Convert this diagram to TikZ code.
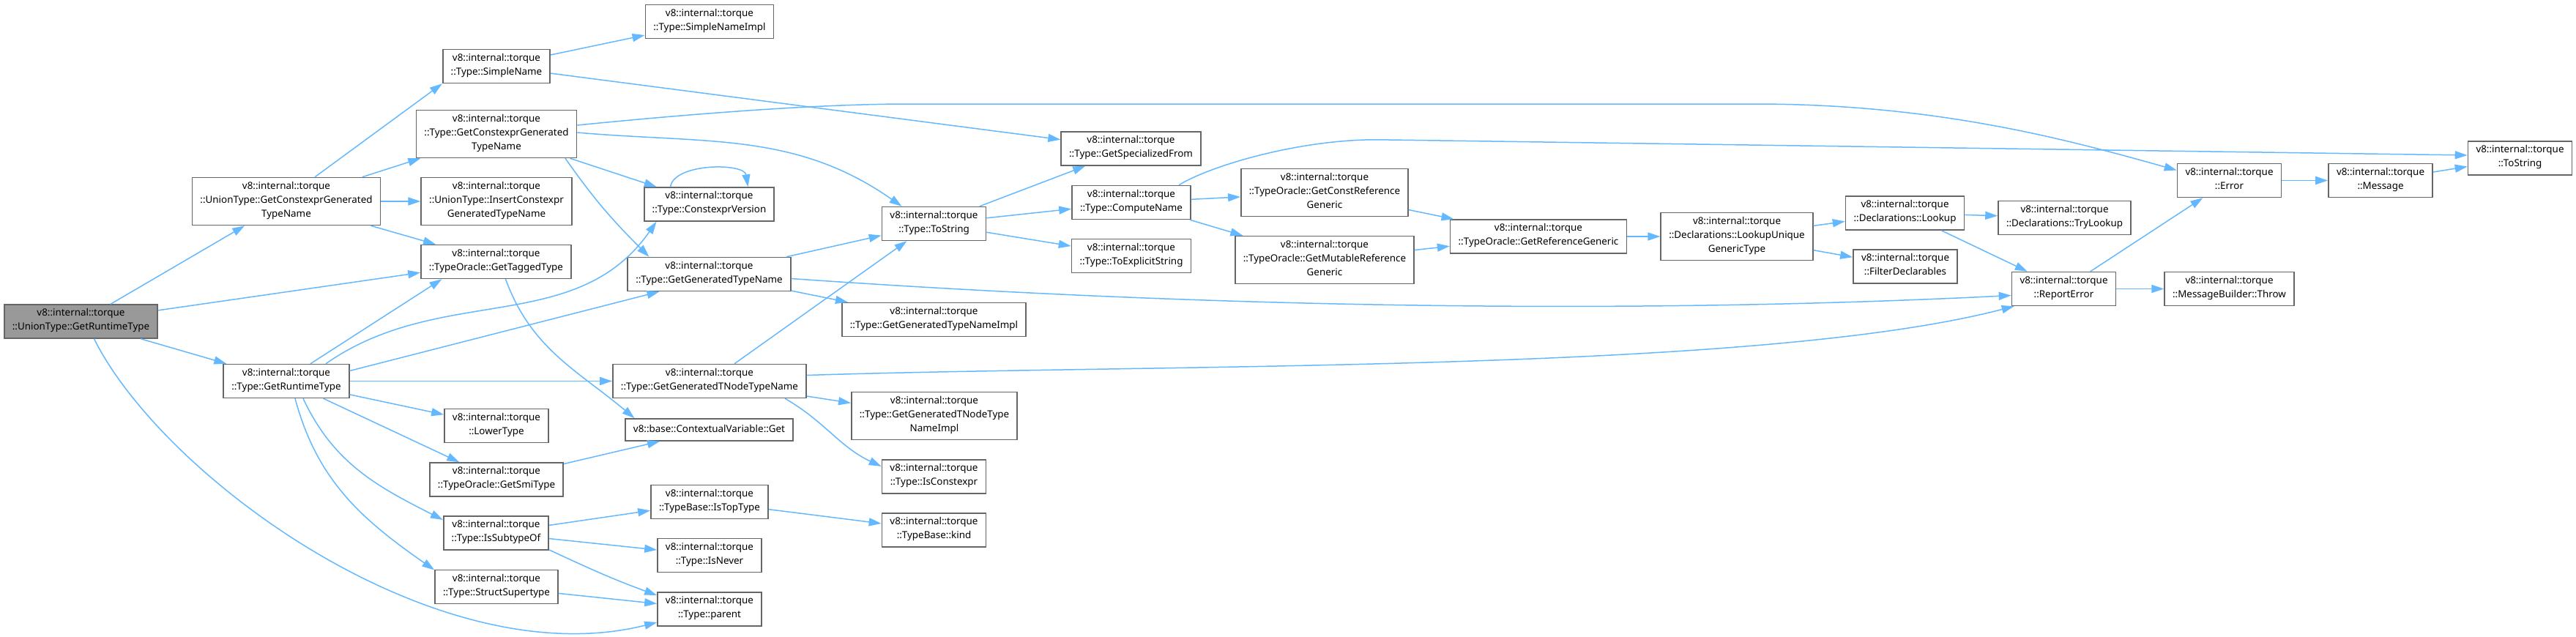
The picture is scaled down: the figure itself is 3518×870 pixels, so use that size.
\documentclass[tikz,border=0pt]{standalone}
\usepackage{fontspec}
\setsansfont{Noto Sans}
\usepackage{tikz}
\usetikzlibrary{arrows.meta}
\definecolor{DoxEdge}{HTML}{63B8FF}
\definecolor{DoxBorder}{HTML}{666666}
\definecolor{DoxRoot}{HTML}{999999}
\begin{document}
\begin{tikzpicture}[
  x=1pt,
  y=1pt,
  fnbox/.style={
    draw=DoxBorder,
    fill=white,
    line width=1.6pt,
    align=center,
    inner xsep=11pt,
    inner ysep=5.5pt,
    minimum height=30pt,
    font=\sffamily\fontsize{13.4}{19}\selectfont,
    execute at begin node=\strut,
    execute at end node=\strut,
    text=black
  },
  rootbox/.style={fnbox, fill=DoxRoot},
  callarrow/.style={-{Triangle[length=17pt,width=11pt]}, line width=1.5pt, draw=DoxEdge}
]
\useasboundingbox (0,0) rectangle (3518,-870);

\node[rootbox] (root) at (110.5,-439) {v8::internal::torque\\::UnionType::GetRuntimeType};
\node[fnbox] (ugetcgtn) at (391,-275) {v8::internal::torque\\::UnionType::GetConstexprGenerated\\TypeName};
\node[fnbox] (getrt) at (391,-520.5) {v8::internal::torque\\::Type::GetRuntimeType};

\node[fnbox] (simplename) at (678,-90.5) {v8::internal::torque\\::Type::SimpleName};
\node[fnbox] (getcgtn) at (678,-183) {v8::internal::torque\\::Type::GetConstexprGenerated\\TypeName};
\node[fnbox] (insertcgtn) at (678,-275) {v8::internal::torque\\::UnionType::InsertConstexpr\\GeneratedTypeName};
\node[fnbox] (taggedtype) at (677.5,-357.5) {v8::internal::torque\\::TypeOracle::GetTaggedType};
\node[fnbox] (lowertype) at (678,-581.5) {v8::internal::torque\\::LowerType};
\node[fnbox] (smitype) at (678,-655) {v8::internal::torque\\::TypeOracle::GetSmiType};
\node[fnbox] (issubtype) at (677.5,-728) {v8::internal::torque\\::Type::IsSubtypeOf};
\node[fnbox] (structsuper) at (678,-801.5) {v8::internal::torque\\::Type::StructSupertype};

\node[fnbox] (simpleimpl) at (969,-29.5) {v8::internal::torque\\::Type::SimpleNameImpl};
\node[fnbox] (cexprver) at (968.5,-279) {v8::internal::torque\\::Type::ConstexprVersion};
\node[fnbox] (gengtn) at (968.5,-374.5) {v8::internal::torque\\::Type::GetGeneratedTypeName};
\node[fnbox] (gentnode) at (969,-520.5) {v8::internal::torque\\::Type::GetGeneratedTNodeTypeName};
\node[fnbox] (ctxget) at (968.5,-587) {v8::base::ContextualVariable::Get};
\node[fnbox] (istoptype) at (969,-685.5) {v8::internal::torque\\::TypeBase::IsTopType};
\node[fnbox] (isnever) at (969,-758.5) {v8::internal::torque\\::Type::IsNever};
\node[fnbox] (parent) at (969,-832) {v8::internal::torque\\::Type::parent};

\node[fnbox] (typetostr) at (1275.5,-305.5) {v8::internal::torque\\::Type::ToString};
\node[fnbox] (gengtnimpl) at (1275.5,-436.5) {v8::internal::torque\\::Type::GetGeneratedTypeNameImpl};
\node[fnbox] (gentnodeimpl) at (1276,-568) {v8::internal::torque\\::Type::GetGeneratedTNodeType\\NameImpl};
\node[fnbox] (isconstexpr) at (1275.5,-651) {v8::internal::torque\\::Type::IsConstexpr};
\node[fnbox] (kind) at (1275.5,-724) {v8::internal::torque\\::TypeBase::kind};

\node[fnbox] (specfrom) at (1544.5,-203) {v8::internal::torque\\::Type::GetSpecializedFrom};
\node[fnbox] (computename) at (1545,-276.5) {v8::internal::torque\\::Type::ComputeName};
\node[fnbox] (explicitstr) at (1545,-349.5) {v8::internal::torque\\::Type::ToExplicitString};

\node[fnbox] (constref) at (1809,-263) {v8::internal::torque\\::TypeOracle::GetConstReference\\Generic};
\node[fnbox] (mutref) at (1809,-355) {v8::internal::torque\\::TypeOracle::GetMutableReference\\Generic};
\node[fnbox] (refgeneric) at (2101,-323) {v8::internal::torque\\::TypeOracle::GetReferenceGeneric};
\node[fnbox] (lookupunique) at (2372,-323) {v8::internal::torque\\::Declarations::LookupUnique\\GenericType};
\node[fnbox] (lookup) at (2601.5,-291) {v8::internal::torque\\::Declarations::Lookup};
\node[fnbox] (filterdecl) at (2602,-364) {v8::internal::torque\\::FilterDeclarables};
\node[fnbox] (trylookup) at (2819.5,-297.5) {v8::internal::torque\\::Declarations::TryLookup};
\node[fnbox] (reporterror) at (2818.5,-394.5) {v8::internal::torque\\::ReportError};
\node[fnbox] (error) at (3044.5,-246.5) {v8::internal::torque\\::Error};
\node[fnbox] (throw) at (3044.5,-394.5) {v8::internal::torque\\::MessageBuilder::Throw};
\node[fnbox] (message) at (3251,-246.5) {v8::internal::torque\\::Message};
\node[fnbox] (tostring) at (3441.5,-216) {v8::internal::torque\\::ToString};

\draw[callarrow] (root) -- (ugetcgtn);
\draw[callarrow] (root) -- (taggedtype);
\draw[callarrow] (root) -- (getrt);
\draw[callarrow] ([xshift=18pt]root.south) .. controls +(95,-190) and +(-300,-75) .. ([yshift=-18pt]parent.west);

\draw[callarrow] ([xshift=39pt]ugetcgtn.north) -- (simplename.south west);
\draw[callarrow] (ugetcgtn) -- (getcgtn);
\draw[callarrow] (ugetcgtn) -- (insertcgtn);
\draw[callarrow] (ugetcgtn) -- (taggedtype);

\draw[callarrow] (simplename) -- (simpleimpl);
\draw[callarrow] (simplename) -- (specfrom);

\draw[callarrow] ([yshift=12pt]getcgtn.east) .. controls +(200,20) and +(-100,0) .. ++(452,29) -- ++(1155,0) .. controls +(250,0) and +(-150,42) .. ([yshift=14pt]error.west);
\draw[callarrow] ([yshift=2pt]getcgtn.east) to[out=-5,in=145] ([xshift=-44pt]typetostr.north);
\draw[callarrow] (getcgtn) -- (cexprver);
\draw[callarrow] ([xshift=94pt]getcgtn.south) to[out=-55,in=135] ([xshift=-82pt]gengtn.north);
\draw[callarrow] ([xshift=-53pt]cexprver.north) .. controls +(5,33) and +(-5,33) .. ([xshift=53pt]cexprver.north);

\draw[callarrow] ([xshift=33pt]getrt.north) -- ([xshift=-74pt]taggedtype.south);
\draw[callarrow] ([xshift=54pt]getrt.north) to[out=35,in=235] ([xshift=-72pt]cexprver.south);
\draw[callarrow] ([yshift=14pt]getrt.east) -- ([xshift=-68pt]gengtn.south);
\draw[callarrow] (getrt) -- (gentnode);
\draw[callarrow] (getrt) -- (lowertype);
\draw[callarrow] (getrt) -- (smitype);
\draw[callarrow] ([xshift=23pt]getrt.south) to[out=-65,in=153] ([yshift=18pt]issubtype.west);
\draw[callarrow] ([xshift=12pt]getrt.south) to[out=-75,in=145] ([yshift=23pt]structsuper.west);

\draw[callarrow] ([xshift=13pt]taggedtype.south) to[out=-70,in=140] ([xshift=-102pt]ctxget.north);
\draw[callarrow] (smitype) -- (ctxget);
\draw[callarrow] (issubtype) -- (istoptype);
\draw[callarrow] (issubtype) -- (isnever);
\draw[callarrow] ([yshift=-23pt]issubtype.east) to[out=-25,in=160] ([yshift=19pt]parent.west);
\draw[callarrow] (structsuper) -- (parent);
\draw[callarrow] (istoptype) -- (kind);

\draw[callarrow] (gengtn) -- (typetostr);
\draw[callarrow] (gengtn) -- (gengtnimpl);
\draw[callarrow] ([yshift=-6pt]gengtn.east) .. controls +(700,-49) and +(-400,-20) .. ([yshift=-9pt]reporterror.west);

\draw[callarrow] ([xshift=34pt]gentnode.north) -- ([xshift=-37pt]typetostr.south);
\draw[callarrow] ([yshift=8pt]gentnode.east) .. controls +(500,16) and +(-350,-91) .. ([xshift=4pt]reporterror.south west);
\draw[callarrow] (gentnode) -- (gentnodeimpl);
\draw[callarrow] ([xshift=103pt]gentnode.south) to[out=-30,in=155] ([yshift=14pt]isconstexpr.west);

\draw[callarrow] (typetostr) -- (specfrom);
\draw[callarrow] (typetostr) -- (computename);
\draw[callarrow] (typetostr) -- (explicitstr);

\draw[callarrow] ([xshift=65pt]computename.north) .. controls +(40,25) and +(-110,0) .. ++(270,62) -- ([yshift=4pt]tostring.west);
\draw[callarrow] (computename) -- (constref);
\draw[callarrow] (computename) -- (mutref);
\draw[callarrow] (constref) -- (refgeneric);
\draw[callarrow] (mutref) -- (refgeneric);
\draw[callarrow] (refgeneric) -- (lookupunique);
\draw[callarrow] (lookupunique) -- (lookup);
\draw[callarrow] (lookupunique) -- (filterdecl);
\draw[callarrow] (lookup) -- (trylookup);
\draw[callarrow] (lookup) -- (reporterror);
\draw[callarrow] (reporterror) -- (error);
\draw[callarrow] (reporterror) -- (throw);
\draw[callarrow] (error) -- (message);
\draw[callarrow] (message) -- (tostring);
\end{tikzpicture}
\end{document}
